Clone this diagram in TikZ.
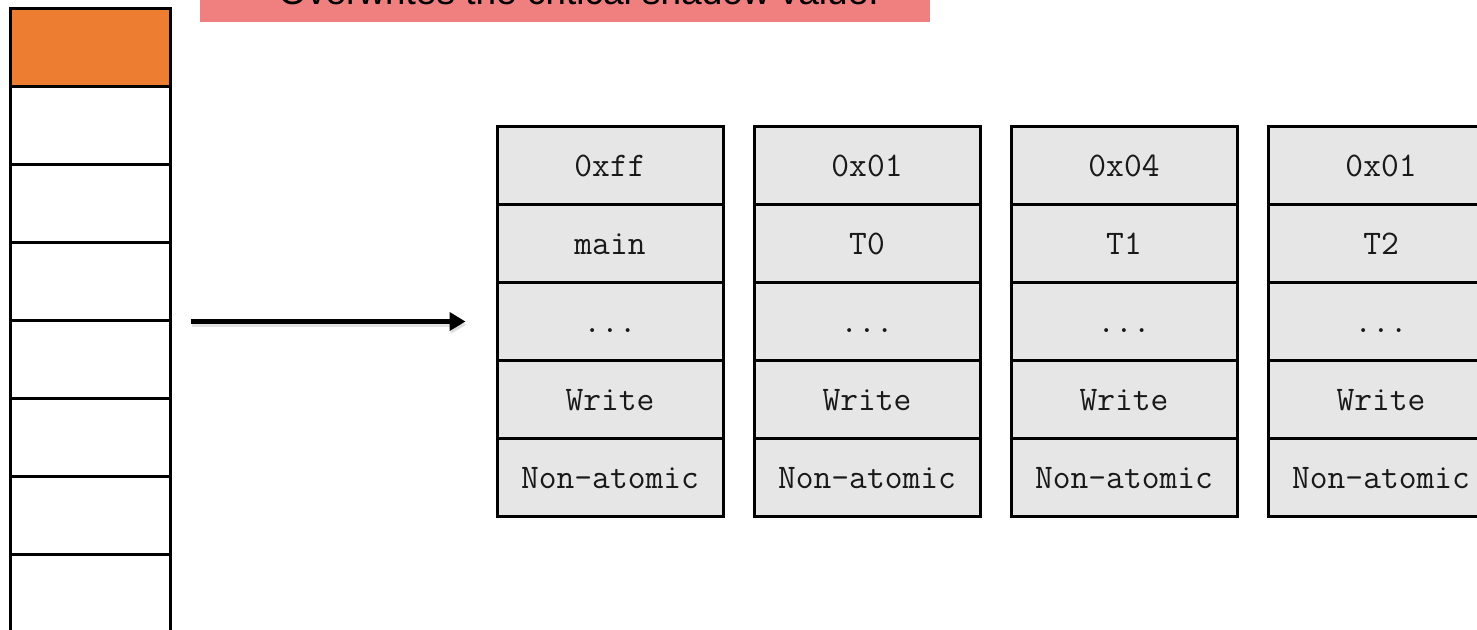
\documentclass[tikz,border=0pt]{standalone}
\usepackage{fontspec}
\setmainfont{Liberation Sans}
\usetikzlibrary{shapes, arrows.meta, positioning}
\definecolor{shadowred}{HTML}{F08080}
\definecolor{slotorange}{HTML}{ED7D31}
\definecolor{entrygray}{HTML}{E6E6E6}
\tikzstyle{slot} =
        [
                rectangle,
                draw,
                line width = 3pt,
                minimum width = 160pt,
                minimum height = 78pt,
                inner sep = 0pt
        ]
\tikzstyle{field} =
        [
                rectangle,
                draw,
                fill = entrygray,
                line width = 3pt,
                minimum width = 226pt,
                minimum height = 78pt,
                inner sep = 0pt,
                text height = 22pt,
                text depth = 0pt,
                text = black!90,
                font = \fontsize{34.5}{34.5}\selectfont\ttfamily
        ]
\tikzstyle{banner} =
        [
                rectangle,
                fill = shadowred,
                minimum width = 730pt,
                inner xsep = 0pt,
                inner ysep = 17pt,
                anchor = south,
                font = \fontsize{37}{37}\selectfont
        ]
\tikzstyle{line} =
        [
                draw,
                line width = 5.5pt,
                -{Triangle[length = 16pt, width = 18pt]}
        ]
\tikzstyle{lineshadow} =
        [
                line,
                draw = black!20,
                opacity = 0.6,
                transform canvas = {xshift = 1pt, yshift = -3pt}
        ]

\begin{document}
\begin{tikzpicture}[x = 1pt, y = -1pt, node distance = 78pt]
        \useasboundingbox (0,0) rectangle (1477,629);

        \node [banner] (warn) at (565,22) {\hspace*{27pt}Overwrites the critical shadow value.};

        % shadow memory column
        \node [slot, fill = slotorange] (mem1) at (90,47) {};
        \node [slot, below of = mem1] (mem2) {};
        \node [slot, below of = mem2] (mem3) {};
        \node [slot, below of = mem3] (mem4) {};
        \node [slot, below of = mem4] (mem5) {};
        \node [slot, below of = mem5] (mem6) {};
        \node [slot, below of = mem6] (mem7) {};
        \node [slot, below of = mem7] (mem8) {};

        % shadow words
        \node [field] (main1) at (610,165) {0xff};
        \node [field, below of = main1] (main2) {main};
        \node [field, below of = main2] (main3) {...};
        \node [field, below of = main3] (main4) {Write};
        \node [field, below of = main4] (main5) {Non-atomic};

        \node [field, right of = main1, node distance = 257pt] (tzero1) {0x01};
        \node [field, below of = tzero1] (tzero2) {T0};
        \node [field, below of = tzero2] (tzero3) {...};
        \node [field, below of = tzero3] (tzero4) {Write};
        \node [field, below of = tzero4] (tzero5) {Non-atomic};

        \node [field, right of = tzero1, node distance = 257pt] (tone1) {0x04};
        \node [field, below of = tone1] (tone2) {T1};
        \node [field, below of = tone2] (tone3) {...};
        \node [field, below of = tone3] (tone4) {Write};
        \node [field, below of = tone4] (tone5) {Non-atomic};

        \node [field, right of = tone1, node distance = 257pt] (ttwo1) {0x01};
        \node [field, below of = ttwo1] (ttwo2) {T2};
        \node [field, below of = ttwo2] (ttwo3) {...};
        \node [field, below of = ttwo3] (ttwo4) {Write};
        \node [field, below of = ttwo4] (ttwo5) {Non-atomic};

        \path [lineshadow, shorten < = 19pt, shorten > = 30pt] (mem4.south east) -- (mem4.south east -| main3.west);
        \path [line, shorten < = 19pt, shorten > = 30pt] (mem4.south east) -- (mem4.south east -| main3.west);
\end{tikzpicture}
\end{document}
